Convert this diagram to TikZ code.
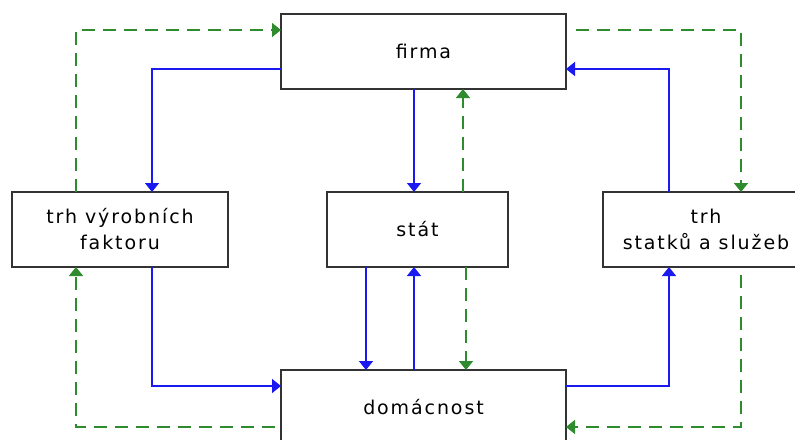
\documentclass[tikz,border=0pt]{standalone}
\usepackage{fontspec}
\setmainfont{DejaVu Sans}[LetterSpace=10]
\usetikzlibrary{arrows.meta}
\definecolor{boxline}{HTML}{333333}
\definecolor{flowblue}{HTML}{1A1AF0}
\definecolor{flowgreen}{HTML}{2E8B2E}
\tikzset{
  box/.style={draw=boxline, line width=2pt, fill=white, rectangle, outer sep=0pt,
    minimum height=75pt, align=center, font=\fontsize{19}{26}\selectfont, inner sep=0pt},
  money/.style={draw=flowblue, line width=1.6pt, -{Triangle[width=14pt,length=9pt]}},
  goods/.style={draw=flowgreen, line width=1.6pt, dash pattern=on 13pt off 8pt, -{Triangle[width=14pt,length=9pt]}},
}
\begin{document}
\begin{tikzpicture}[x=1pt,y=-1pt]
\useasboundingbox (0,0) rectangle (795,439);
\clip (0,0) rectangle (795,439);
\node[box, minimum width=285pt] (firma) at (423.5,51.5) {firma};
\node[box, minimum width=216pt] (vyr) at (120,229.5) {trh výrobních\\faktoru};
\node[box, minimum width=181pt] (stat) at (417.5,229.5) {stát};
\node[box, minimum width=206pt] (sta) at (706,229.5) {trh\\statků a služeb};
\node[box, minimum width=285pt] (dom) at (423.5,407.5) {domácnost};
% top-left loop
\draw[money] ([yshift=-17.5pt]firma.west) -| ([xshift=32pt]vyr.north);
\draw[goods] ([xshift=-44pt]vyr.north) |- ([yshift=21.5pt]firma.west);
% firma - stat
\draw[money] ([xshift=-3.5pt]stat.north |- firma.south) -- ([xshift=-3.5pt]stat.north);
\draw[goods] ([xshift=45.5pt]stat.north) -- ([xshift=45.5pt]stat.north |- firma.south);
% top-right loop
\draw[money] ([xshift=-37pt]sta.north) |- ([yshift=-17.5pt]firma.east);
\draw[goods] ([xshift=10pt,yshift=21.5pt]firma.east) -| ([xshift=35pt]sta.north);
% bottom-left loop
\draw[money] ([xshift=32pt]vyr.south) |- ([yshift=21.5pt]dom.west);
\draw[goods] ([xshift=-6pt,yshift=-19.5pt]dom.west) -| ([xshift=-44pt]vyr.south);
% stat - domacnost
\draw[money] ([xshift=-51.5pt]stat.south) -- ([xshift=-51.5pt]stat.south |- dom.north);
\draw[money] ([xshift=-3.5pt]stat.south |- dom.north) -- ([xshift=-3.5pt]stat.south);
\draw[goods] ([xshift=48.5pt]stat.south) -- ([xshift=48.5pt]stat.south |- dom.north);
% bottom-right loop
\draw[money] ([yshift=21.5pt]dom.east) -| ([xshift=-37pt]sta.south);
\draw[goods] ([xshift=35pt,yshift=-8pt]sta.south) |- ([yshift=-19.5pt]dom.east);
\end{tikzpicture}
\end{document}
